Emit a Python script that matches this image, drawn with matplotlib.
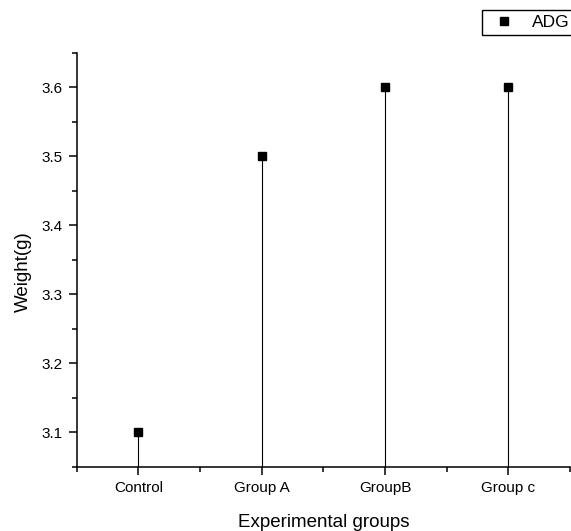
import numpy as np
import matplotlib.pyplot as plt
from matplotlib.ticker import MultipleLocator, FixedLocator

plt.rcParams["font.family"] = ["Liberation Sans", "DejaVu Sans"]

# ===== Data =====
groups = ["Control", "Group A", "GroupB", "Group c"]
adg = [3.1, 3.5, 3.6, 3.6]

Y_MIN, Y_MAX = 3.05, 3.65

fig = plt.figure(figsize=(5.71, 5.31), dpi=100)
ax = fig.add_axes([0.1343, 0.1211, 0.8640, 0.7797])

x = np.arange(1, len(groups) + 1)

# drop lines from the bottom axis up to each point
ax.vlines(x, Y_MIN, adg, color="black", lw=0.8)
ax.plot(x, adg, ls="none", marker="s", ms=5.5, color="black", label="ADG",
        clip_on=False, zorder=3)

ax.set_xlim(0.5, len(groups) + 0.5)
ax.set_ylim(Y_MIN, Y_MAX)

ax.set_xticks(x)
ax.set_xticklabels(groups)
ax.xaxis.set_minor_locator(FixedLocator(np.arange(0.5, len(groups) + 1, 1.0)))
ax.yaxis.set_major_locator(MultipleLocator(0.1))
ax.yaxis.set_minor_locator(MultipleLocator(0.05))
ax.yaxis.set_major_formatter(plt.FormatStrFormatter("%.1f"))

for side in ["top", "right"]:
    ax.spines[side].set_visible(False)
for side in ["left", "bottom"]:
    ax.spines[side].set_linewidth(1.1)

ax.tick_params(which="major", direction="out", length=6, width=1.1,
               labelsize=11, pad=4)
ax.tick_params(which="minor", direction="out", length=3.5, width=1.1)

ax.set_xlabel("Experimental groups", fontsize=13.5, labelpad=14)
ax.set_ylabel("Weight(g)", fontsize=13.5)
ax.yaxis.set_label_coords(-0.09, 0.47)

fig.legend(loc="upper left", bbox_to_anchor=(481.7 / 571, 1 - 9.5 / 531),
           fontsize=12.5, frameon=True, fancybox=False, edgecolor="black",
           framealpha=1, borderpad=0.3, handlelength=1.96,
           handletextpad=0.62, borderaxespad=0)

fig.savefig("out.png", dpi=100)
